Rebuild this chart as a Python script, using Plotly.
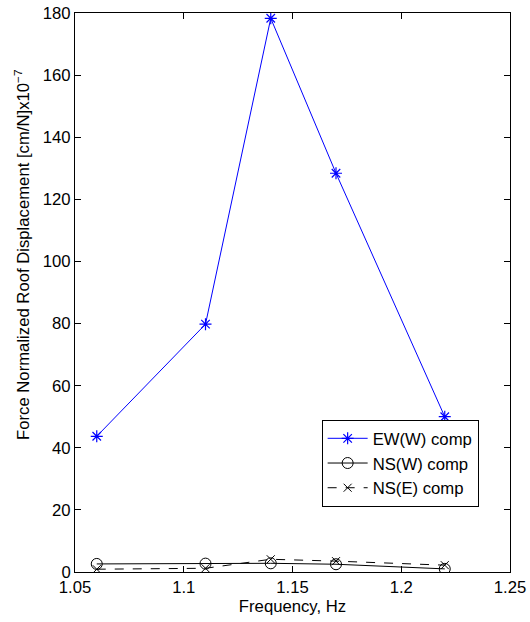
import plotly.graph_objects as go

freq = [1.06, 1.11, 1.14, 1.17, 1.22]
ew_w = [43.7, 79.8, 178.3, 128.4, 50.0]
ns_w = [2.6, 2.7, 2.8, 2.5, 1.0]
ns_e = [0.9, 1.2, 4.1, 3.5, 2.2]

x_tickvals = [1.05, 1.1, 1.15, 1.2, 1.25]
x_ticktext = ["1.05", "1.1", "1.15", "1.2", "1.25"]
y_tickvals = [0, 20, 40, 60, 80, 100, 120, 140, 160, 180]

FS = 16.7

fig = go.Figure()
fig.add_trace(go.Scatter(x=freq, y=ew_w, mode="lines+markers", name="EW(W) comp",
                         line=dict(color="#0000ff", width=1),
                         marker=dict(symbol="asterisk-open", size=10,
                                     line=dict(color="#0000ff", width=1.2))))
fig.add_trace(go.Scatter(x=freq, y=ns_w, mode="lines+markers", name="NS(W) comp",
                         line=dict(color="black", width=1),
                         marker=dict(symbol="circle-open", size=11,
                                     line=dict(color="black", width=1))))
fig.add_trace(go.Scatter(x=freq, y=ns_e, mode="lines+markers", name="NS(E) comp",
                         line=dict(color="black", width=1, dash="dash"),
                         marker=dict(symbol="x-thin-open", size=8,
                                     line=dict(color="black", width=1))))

axis_common = dict(showgrid=False, zeroline=False, showline=True, linecolor="black",
                   linewidth=1, mirror="ticks", ticks="inside", ticklen=6,
                   tickcolor="black", automargin=False,
                   tickfont=dict(size=FS, color="black"))

fig.update_layout(
    width=530, height=622,
    paper_bgcolor="white", plot_bgcolor="white",
    margin=dict(l=75, r=20, t=13, b=50),
    font=dict(family="Liberation Sans, Arial, sans-serif", size=FS, color="black"),
    xaxis=dict(range=[1.05, 1.25], tickvals=x_tickvals, ticktext=x_ticktext,
               title=dict(text="Frequency, Hz", font=dict(size=FS), standoff=4),
               **axis_common),
    yaxis=dict(range=[0, 180], tickvals=y_tickvals, **axis_common),
    legend=dict(x=0.567, y=0.272, xanchor="left", yanchor="top",
                bgcolor="white", bordercolor="black", borderwidth=1,
                font=dict(size=FS), tracegroupgap=0, itemwidth=40),
    showlegend=True,
)

fig.add_annotation(text="Force Normalized Roof Displacement [cm/N]x10<sup>\u22127</sup>",
                   xref="paper", yref="paper", x=-0.122, y=0.567,
                   xanchor="center", yanchor="middle", textangle=-90,
                   showarrow=False, font=dict(size=FS, color="black"))

fig.write_html("out.html", config={"displayModeBar": False},
               post_script="document.body.style.margin='0';")
